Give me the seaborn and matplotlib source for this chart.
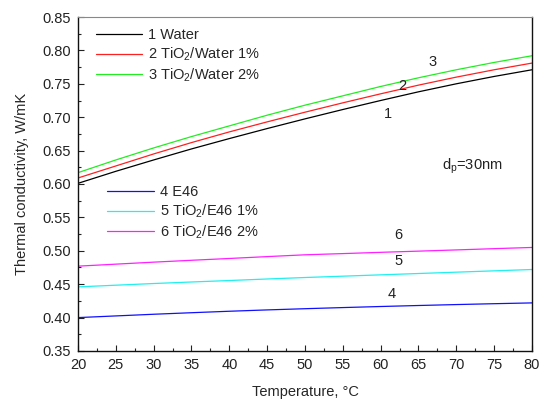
import numpy as np
import pandas as pd
import seaborn as sns
import matplotlib
matplotlib.use("Agg")
import matplotlib.pyplot as plt
from matplotlib.ticker import MultipleLocator

# temperature grid, degC
temperature = [20, 25, 30, 35, 40, 45, 50, 55, 60, 65, 70, 75, 80]

# thermal conductivity, W/mK
water = [0.601, 0.619, 0.636, 0.6525, 0.668, 0.683, 0.6975, 0.7115, 0.725, 0.738, 0.750, 0.761, 0.771]
tio2_water_1 = [0.609, 0.627, 0.645, 0.662, 0.678, 0.693, 0.7075, 0.7215, 0.735, 0.748, 0.760, 0.771, 0.781]
tio2_water_2 = [0.617, 0.636, 0.654, 0.671, 0.687, 0.703, 0.718, 0.732, 0.746, 0.759, 0.771, 0.782, 0.792]
e46 = [0.400, 0.4025, 0.405, 0.4073, 0.4095, 0.4115, 0.4133, 0.415, 0.4166, 0.4181, 0.4195, 0.4208, 0.422]
tio2_e46_1 = [0.446, 0.4485, 0.451, 0.4533, 0.4555, 0.4578, 0.460, 0.462, 0.464, 0.466, 0.468, 0.470, 0.472]
tio2_e46_2 = [0.477, 0.480, 0.483, 0.4858, 0.4885, 0.4913, 0.494, 0.4958, 0.4977, 0.4995, 0.5013, 0.5032, 0.505]

series = [
    ("1 Water", water, "#000000"),
    ("2 TiO$_2$/Water 1%", tio2_water_1, "#ff2020"),
    ("3 TiO$_2$/Water 2%", tio2_water_2, "#20ee20"),
    ("4 E46", e46, "#1010ff"),
    ("5 TiO$_2$/E46 1%", tio2_e46_1, "#20f0f0"),
    ("6 TiO$_2$/E46 2%", tio2_e46_2, "#ff20ff"),
]

# curve number labels: (text, T, k)
curve_labels = [
    ("1", 61.0, 0.705), ("2", 62.8, 0.747), ("3", 66.9, 0.782),
    ("4", 61.5, 0.435), ("5", 62.3, 0.485), ("6", 62.3, 0.523),
]

sns.set_style("ticks")
plt.rcParams["font.family"] = ["Liberation Sans", "DejaVu Sans"]
plt.rcParams["mathtext.fontset"] = "custom"
plt.rcParams["mathtext.rm"] = "Liberation Sans"
plt.rcParams["mathtext.it"] = "Liberation Sans"
fs = 10.5
plt.rcParams["font.size"] = fs

fig = plt.figure(figsize=(5.42, 4.01), dpi=100)
ax = fig.add_axes([0.1439, 0.1247, 0.8376, 0.8329])

for name, vals, color in series:
    df = pd.DataFrame({"T": temperature, "k": vals})
    sns.lineplot(data=df, x="T", y="k", color=color, linewidth=0.9, label=name, ax=ax)

ax.set_xlim(20, 80)
ax.set_ylim(0.35, 0.85)
ax.xaxis.set_major_locator(MultipleLocator(5))
ax.xaxis.set_minor_locator(MultipleLocator(2.5))
ax.yaxis.set_major_locator(MultipleLocator(0.05))
ax.yaxis.set_minor_locator(MultipleLocator(0.025))
ax.yaxis.set_major_formatter(matplotlib.ticker.FormatStrFormatter("%.2f"))
ax.tick_params(which="major", direction="in", length=4, width=0.8, pad=5, labelsize=fs, colors="#222222")
ax.tick_params(which="minor", direction="in", length=2.5, width=0.8)
ax.tick_params(top=False, right=False, which="both")
for s in ["left", "bottom", "right"]:
    ax.spines[s].set_color("#111111")
    ax.spines[s].set_linewidth(1.0)
ax.spines["top"].set_color("#888888")
ax.spines["top"].set_linewidth(0.8)

ax.set_xlabel("Temperature, \u00b0C", fontsize=fs, labelpad=9.5)
ax.set_ylabel("Thermal conductivity, W/mK", fontsize=fs, labelpad=10)

for txt, t, k in curve_labels:
    ax.text(t, k, txt, ha="center", va="center", fontsize=fs, color="#222222")
ax.text(68.1, 0.626, "d$_p$=30nm", ha="left", va="center", fontsize=fs, color="#222222")

handles, labels = ax.get_legend_handles_labels()
ax.get_legend().remove()
leg1 = ax.legend(handles[:3], labels[:3], loc="upper left", bbox_to_anchor=(0.01, 1.005),
                 frameon=False, handlelength=3.2, handletextpad=0.4, labelspacing=0.22, fontsize=fs)
ax.add_artist(leg1)
ax.legend(handles[3:], labels[3:], loc="upper left", bbox_to_anchor=(0.035, 0.535),
          frameon=False, handlelength=3.2, handletextpad=0.4, labelspacing=0.22, fontsize=fs)

fig.savefig("out.png", dpi=100)
